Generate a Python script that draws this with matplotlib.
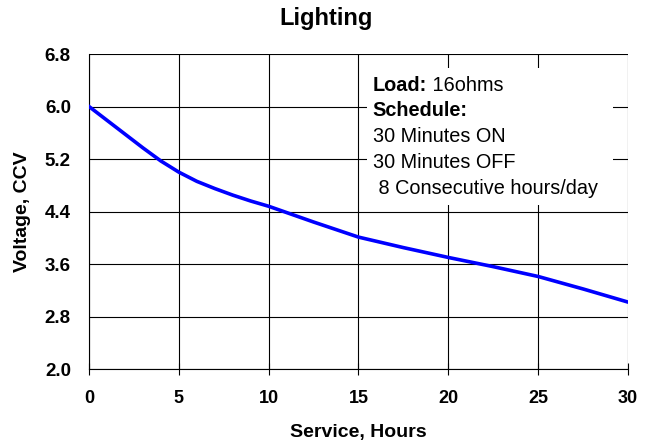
"""Lighting discharge curve: voltage vs service hours."""
import matplotlib
matplotlib.use("Agg")
import matplotlib.pyplot as plt

plt.rcParams["font.family"] = ["Liberation Sans", "DejaVu Sans"]

hours = [0, 1, 2, 3, 4, 5, 6, 7, 8, 9, 10, 12.5, 15, 17.5, 20, 22.5, 25, 27.5, 30]
voltage = [6.0, 5.79, 5.58, 5.37, 5.17, 5.0, 4.86, 4.75, 4.65, 4.56, 4.48,
           4.24, 4.01, 3.85, 3.70, 3.56, 3.41, 3.22, 3.02]

x_ticks = [0, 5, 10, 15, 20, 25, 30]
y_ticks = [2.0, 2.8, 3.6, 4.4, 5.2, 6.0, 6.8]

note_lines = [
    ("Load:", " 16ohms"),
    ("Schedule:", ""),
    ("30 Minutes ON", None),
    ("30 Minutes OFF", None),
    (" 8 Consecutive hours/day", None),
]

fig = plt.figure(figsize=(6.53, 4.46), dpi=100)
ax = fig.add_axes([0.1363, 0.1726, 0.8254, 0.7063])

ax.plot(hours, voltage, color="#0000ff", linewidth=2.6, zorder=3,
        solid_joinstyle="round")

ax.set_xlim(0, 30)
ax.set_ylim(2.0, 6.8)
ax.set_xticks(x_ticks)
ax.set_yticks(y_ticks)
ax.set_xticklabels([str(t) for t in x_ticks], fontweight="bold", fontsize=13)
ax.set_yticklabels([f"{t:.1f}" for t in y_ticks], fontweight="bold", fontsize=13.5)
ax.tick_params(axis="x", direction="inout", length=8, width=0.8, pad=11)
ax.tick_params(axis="y", length=0, pad=13)
ax.grid(True, color="black", linewidth=0.8)
for side in ("top", "right"):
    ax.spines[side].set_visible(False)
for side in ("left", "bottom"):
    ax.spines[side].set_linewidth(0.8)

ax.set_xlabel("Service, Hours", fontweight="bold", fontsize=14)
ax.xaxis.set_label_coords(0.5, -0.175)
ax.set_ylabel("Voltage, CCV", fontweight="bold", fontsize=14)
ax.yaxis.set_label_coords(-0.108, 0.5)
fig.text(0.5, 1 - 25 / 446, "Lighting", fontweight="bold", fontsize=17,
         ha="center", va="baseline")

# White note box over the grid
ax.axvspan(15.47, 29.16, ymin=(4.50 - 2.0) / 4.8, ymax=(6.59 - 2.0) / 4.8,
           color="white", zorder=2, linewidth=0)
y0 = 6.327
step = 0.393
for i, (a, b) in enumerate(note_lines):
    yy = y0 - i * step
    if b is None:
        ax.text(15.8, yy, a, fontsize=14.3, va="center", zorder=4)
    else:
        t = ax.text(15.8, yy, a, fontsize=14.3, fontweight="bold", va="center", zorder=4)
        if b:
            ax.annotate(b, xycoords=t, xy=(1, 0.5), va="center", fontsize=14.3, zorder=4)

fig.savefig("out.png", dpi=100)
